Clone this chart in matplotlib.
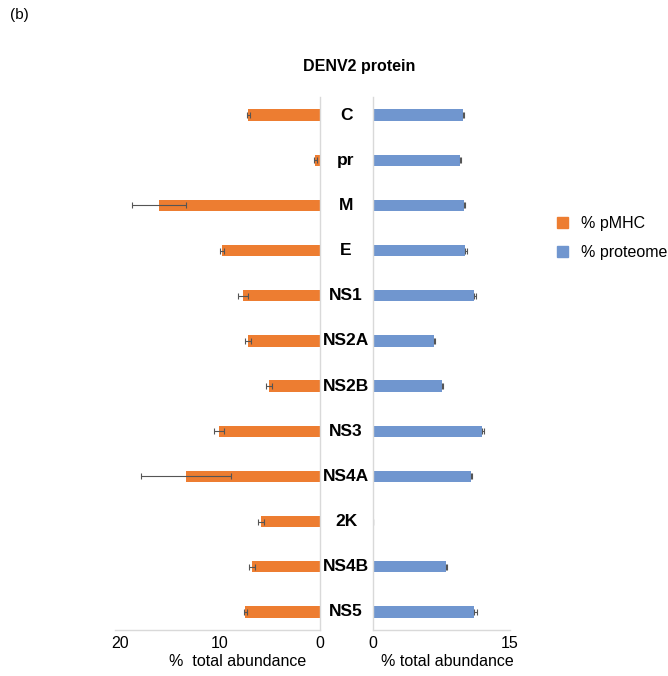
import numpy as np
import matplotlib.pyplot as plt
from matplotlib.patches import Patch

# DENV2 protein abundance: pMHC (left) vs proteome (right)
proteins = ['C', 'pr', 'M', 'E', 'NS1', 'NS2A', 'NS2B', 'NS3', 'NS4A', '2K', 'NS4B', 'NS5']
pmhc = [7.2, 0.5, 16.1, 9.8, 7.7, 7.2, 5.1, 10.1, 13.4, 5.9, 6.8, 7.5]
pmhc_err = [0.15, 0.15, 2.7, 0.2, 0.5, 0.3, 0.3, 0.5, 4.5, 0.3, 0.3, 0.15]
proteome = [9.85, 9.5, 9.95, 10.1, 11.1, 6.7, 7.5, 11.9, 10.7, 0, 8.0, 11.1]
proteome_err = [0.15, 0.1, 0.15, 0.2, 0.2, 0.1, 0.15, 0.3, 0.15, 0, 0.15, 0.3]

orange = '#ED7D31'
blue = '#7096CF'
spine_col = '#d9d9d9'

plt.rcParams['font.family'] = ['Liberation Sans', 'DejaVu Sans']

W, H = 668, 676
fig = plt.figure(figsize=(W / 100, H / 100), dpi=100)

def box(x0, x1, ytop, ybot):
    return [x0 / W, 1 - ybot / H, (x1 - x0) / W, (ybot - ytop) / H]

axL = fig.add_axes(box(115, 320, 97, 630))
axR = fig.add_axes(box(373, 510, 97, 630))

y = np.arange(len(proteins))
err_kw = dict(ecolor='#555555', elinewidth=0.8, capsize=2, capthick=0.8)

axL.barh(y, pmhc, height=0.25, color=orange, xerr=pmhc_err, error_kw=err_kw)
axR.barh(y, proteome, height=0.25, color=blue,
         xerr=[np.zeros(len(proteome)), proteome_err], error_kw=err_kw)

axL.set_xlim(20.5, 0)
axR.set_xlim(0, 15)
for ax in (axL, axR):
    ax.set_ylim(len(proteins) - 0.6, -0.4)
    ax.set_yticks([])
    ax.tick_params(axis='x', length=0, labelsize=11.5, pad=4)
    for s in ax.spines.values():
        s.set_color(spine_col)
        s.set_linewidth(1)
    ax.spines['top'].set_visible(False)

axL.spines['left'].set_visible(False)
axR.spines['right'].set_visible(False)
axL.set_xticks([20, 10, 0])
axR.set_xticks([0, 15])

# category labels between the two panels
for i, name in enumerate(proteins):
    axR.annotate(name, xy=(0, i), xycoords='data', xytext=(-27, 0),
                 textcoords='offset pixels', ha='center', va='center',
                 fontsize=12.5, fontweight='bold', annotation_clip=False)

fig.text(238 / W, 1 - 662 / H, '%  total abundance', ha='center', va='center', fontsize=11.5)
fig.text(447 / W, 1 - 662 / H, '% total abundance', ha='center', va='center', fontsize=11.5)

fig.text(359 / W, 1 - 67 / H, 'DENV2 protein', ha='center', va='center',
         fontsize=11.5, fontweight='bold')
fig.text(10 / W, 1 - 15 / H, '(b)', ha='left', va='center', fontsize=11)

handles = [Patch(color=orange, label='% pMHC'), Patch(color=blue, label='% proteome')]
fig.legend(handles=handles, loc='center left', bbox_to_anchor=(557 / W, 1 - 238 / H),
           frameon=False, fontsize=11.5, handlelength=0.7, handleheight=0.7,
           handletextpad=0.8, labelspacing=0.9, borderpad=0, borderaxespad=0)

fig.savefig('out.png', dpi=100)
